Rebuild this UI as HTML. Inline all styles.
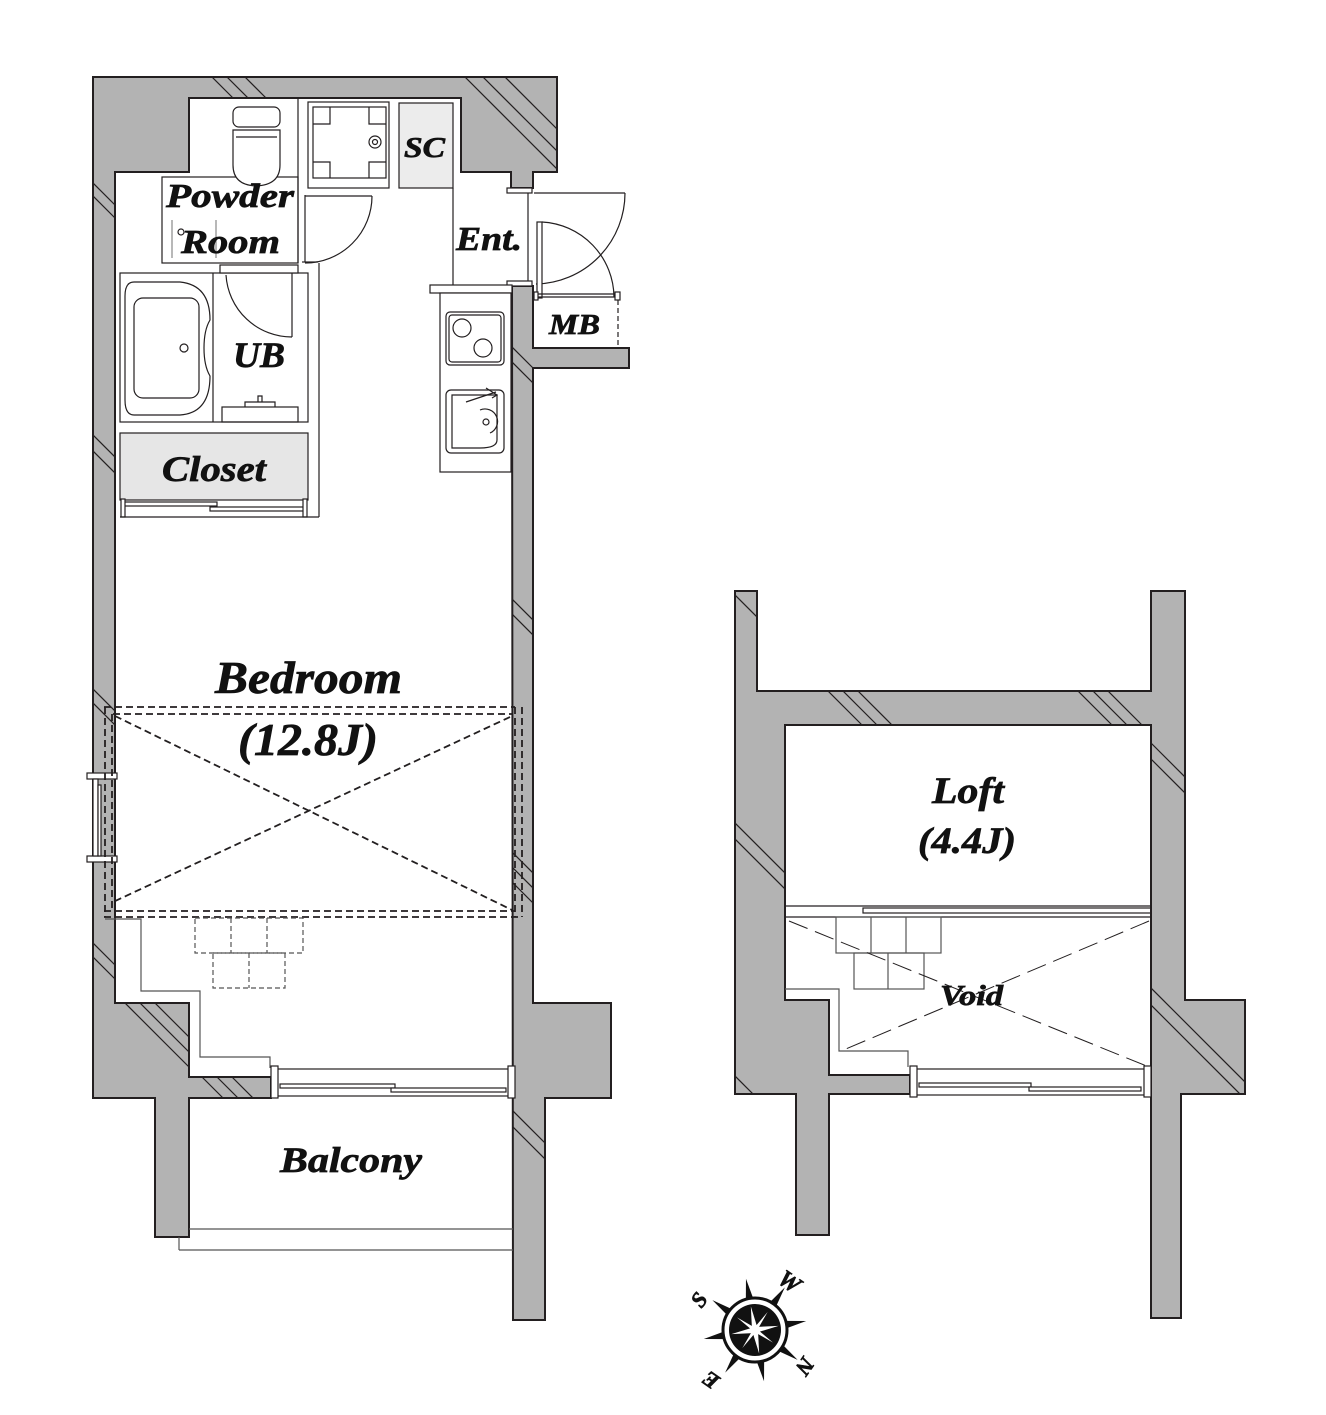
<!DOCTYPE html>
<html><head><meta charset="utf-8"><style>
html,body{margin:0;padding:0;background:#fff}
svg{display:block}
text{font-family:"Liberation Serif",serif;font-weight:bold;font-style:italic;fill:#111;stroke:#111;stroke-width:0.7px}
</style></head><body>
<svg width="1326" height="1415" viewBox="0 0 1326 1415" xmlns="http://www.w3.org/2000/svg">
<defs>
<clipPath id="cw">
<path d="M93,77 L557,77 L557,172 L533,172 L533,188 L511,188 L511,172 L461,172 L461,98 L189,98 L189,172 L115,172 L115,1003 L189,1003 L189,1077 L271,1077 L271,1098 L189,1098 L189,1237 L155,1237 L155,1098 L93,1098 Z"/>
<path d="M512,286 L533,286 L533,348 L629,348 L629,368 L533,368 L533,1003 L611,1003 L611,1098 L545,1098 L545,1320 L513,1320 Z"/>
<path d="M735,591 L757,591 L757,691 L1151,691 L1151,591 L1185,591 L1185,1000 L1245,1000 L1245,1094 L1181,1094 L1181,1318 L1151,1318 L1151,725 L785,725 L785,1000 L829,1000 L829,1075 L910,1075 L910,1094 L829,1094 L829,1235 L796,1235 L796,1094 L735,1094 Z"/>
</clipPath>
</defs>

<g fill="#b3b3b3" stroke="#231f20" stroke-width="2">
<path d="M93,77 L557,77 L557,172 L533,172 L533,188 L511,188 L511,172 L461,172 L461,98 L189,98 L189,172 L115,172 L115,1003 L189,1003 L189,1077 L271,1077 L271,1098 L189,1098 L189,1237 L155,1237 L155,1098 L93,1098 Z"/>
<path d="M512,286 L533,286 L533,348 L629,348 L629,368 L533,368 L533,1003 L611,1003 L611,1098 L545,1098 L545,1320 L513,1320 Z"/>
<path d="M735,591 L757,591 L757,691 L1151,691 L1151,591 L1185,591 L1185,1000 L1245,1000 L1245,1094 L1181,1094 L1181,1318 L1151,1318 L1151,725 L785,725 L785,1000 L829,1000 L829,1075 L910,1075 L910,1094 L829,1094 L829,1235 L796,1235 L796,1094 L735,1094 Z"/>
</g>

<g clip-path="url(#cw)" stroke="#231f20" stroke-width="1.2">
<line x1="205" y1="70" x2="240" y2="105"/><line x1="220" y1="70" x2="255" y2="105"/><line x1="238" y1="70" x2="273" y2="105"/>
<line x1="460" y1="72" x2="570" y2="182"/><line x1="478" y1="72" x2="588" y2="182"/><line x1="500" y1="72" x2="610" y2="182"/>
<line x1="90" y1="180" x2="120" y2="210"/><line x1="90" y1="193" x2="120" y2="223"/>
<line x1="90" y1="432" x2="120" y2="462"/><line x1="90" y1="448" x2="120" y2="478"/>
<line x1="90" y1="686" x2="120" y2="716"/><line x1="90" y1="700" x2="120" y2="730"/>
<line x1="90" y1="940" x2="120" y2="970"/><line x1="90" y1="954" x2="120" y2="984"/>
<line x1="122" y1="1000" x2="196" y2="1074"/><line x1="137" y1="1000" x2="211" y2="1074"/><line x1="152" y1="1000" x2="226" y2="1074"/>
<line x1="200" y1="1075" x2="226" y2="1101"/><line x1="215" y1="1075" x2="241" y2="1101"/><line x1="230" y1="1075" x2="256" y2="1101"/>
<line x1="510" y1="345" x2="540" y2="375"/><line x1="510" y1="360" x2="540" y2="390"/>
<line x1="510" y1="597" x2="540" y2="627"/><line x1="510" y1="612" x2="540" y2="642"/>
<line x1="510" y1="850" x2="540" y2="880"/><line x1="510" y1="865" x2="540" y2="895"/><line x1="510" y1="880" x2="540" y2="910"/>
<line x1="510" y1="1108" x2="550" y2="1148"/><line x1="510" y1="1124" x2="550" y2="1164"/>
<line x1="732" y1="592" x2="762" y2="622"/>
<line x1="732" y1="820" x2="790" y2="878"/><line x1="732" y1="836" x2="790" y2="894"/>
<line x1="732" y1="1073" x2="760" y2="1101"/>
<line x1="825" y1="688" x2="862" y2="725"/><line x1="840" y1="688" x2="877" y2="725"/><line x1="855" y1="688" x2="892" y2="725"/>
<line x1="1075" y1="688" x2="1112" y2="725"/><line x1="1090" y1="688" x2="1127" y2="725"/><line x1="1105" y1="688" x2="1142" y2="725"/>
<line x1="1148" y1="740" x2="1190" y2="782"/><line x1="1148" y1="756" x2="1190" y2="798"/>
<line x1="1148" y1="985" x2="1258" y2="1095"/><line x1="1148" y1="1002" x2="1258" y2="1112"/>
</g>

<g fill="none" stroke="#231f20" stroke-width="1.2">
<rect x="162" y="177" width="136" height="86" fill="#fff"/>
<line x1="298" y1="98" x2="298" y2="263"/>
<line x1="172" y1="220" x2="172" y2="258" stroke="#888"/>
<line x1="216" y1="220" x2="216" y2="258" stroke="#888"/>
<circle cx="181" cy="232" r="3"/>
<rect x="233" y="107" width="47" height="20" rx="6" fill="#fff"/>
<path d="M233,130 L280,130 L280,165 Q280,185 256,186 Q233,185 233,165 Z" fill="#fff"/>
<line x1="236" y1="137" x2="277" y2="137"/>
<line x1="305" y1="195" x2="305" y2="262"/><line x1="302" y1="262" x2="318" y2="262"/>
<line x1="305" y1="196" x2="372" y2="196"/>
<path d="M372,196 A67,67 0 0 1 305,263"/>
<rect x="308" y="102" width="81" height="86"/>
<rect x="313" y="107" width="73" height="71"/>
<circle cx="375" cy="142" r="6"/><circle cx="375" cy="142" r="2.5"/>
<path d="M313,124 H330 V107 M369,107 V124 H386 M313,162 H330 V178 M369,178 V162 H386"/>
<rect x="399" y="103" width="54" height="85" fill="#ececec"/>
<line x1="453" y1="188" x2="453" y2="285"/>
<rect x="507" y="188" width="25" height="5" fill="#fff"/>
<rect x="507" y="281" width="25" height="5" fill="#fff"/>
<line x1="528" y1="193" x2="528" y2="281"/>
<line x1="534" y1="193" x2="625" y2="193"/>
<path d="M625,193 A91,91 0 0 1 536,284"/>
<rect x="537" y="222" width="5" height="76" fill="#fff"/>
<path d="M542,222 A76,76 0 0 1 614,297"/>
<line x1="535" y1="297" x2="620" y2="297"/>
<line x1="537" y1="294" x2="620" y2="294"/>
<rect x="534" y="292" width="4" height="8" fill="#fff"/><rect x="615" y="292" width="5" height="8" fill="#fff"/>
<line x1="618" y1="300" x2="618" y2="348" stroke-dasharray="5,3"/>
<rect x="430" y="285" width="82" height="8" fill="#fff"/>
<rect x="440" y="293" width="71" height="179" fill="#fff"/>
<rect x="446" y="312" width="58" height="53" rx="4"/>
<rect x="449" y="315" width="52" height="47" rx="3"/>
<circle cx="462" cy="328" r="9"/><circle cx="483" cy="348" r="9"/>
<rect x="446" y="390" width="58" height="63" rx="5"/>
<path d="M452,395 H497 V440 Q497,448 480,448 H452 Z"/>
<path d="M466,402 L496,392 M486,388 L497,395 L492,398"/>
<circle cx="486" cy="422" r="3"/><path d="M480,410 A12,12 0 0 1 490,433"/>
<rect x="120" y="273" width="188" height="149" fill="#fff"/>
<line x1="319" y1="263" x2="319" y2="517"/>
<line x1="213" y1="273" x2="213" y2="422"/>
<path d="M134,282 H180 Q210,285 210,320 Q204,330 204,348 Q204,366 210,376 Q210,413 180,415 H134 Q125,415 125,400 V296 Q125,282 134,282 Z"/>
<rect x="134" y="298" width="65" height="100" rx="9"/>
<circle cx="184" cy="348" r="4"/>
<rect x="220" y="265" width="78" height="8" fill="#fff"/>
<line x1="292" y1="273" x2="292" y2="337"/>
<path d="M226,275 A66,66 0 0 0 292,337"/>
<rect x="222" y="407" width="76" height="15"/>
<path d="M245,407 V402 H275 V407 M258,402 V396 H262 V402"/>
<rect x="120" y="433" width="188" height="67" fill="#e6e6e6"/>
<rect x="123" y="502" width="94" height="4" fill="#fff"/>
<rect x="210" y="507" width="95" height="4" fill="#fff"/>
<rect x="121" y="499" width="4" height="18" fill="#fff"/><rect x="303" y="499" width="4" height="18" fill="#fff"/>
<line x1="120" y1="517" x2="319" y2="517"/>
<rect x="87" y="773" width="30" height="6" fill="#fff"/>
<rect x="87" y="856" width="30" height="6" fill="#fff"/>
<rect x="93" y="779" width="5" height="77" fill="#fff"/>
<rect x="98" y="785" width="3" height="71" fill="#fff"/>
<g stroke-dasharray="7,4" stroke-width="1.8">
<line x1="104" y1="707" x2="515" y2="707"/><line x1="113" y1="714" x2="512" y2="714"/>
<line x1="104" y1="911" x2="515" y2="911"/><line x1="104" y1="917" x2="520" y2="917"/>
<line x1="105" y1="707" x2="105" y2="917"/><line x1="112" y1="714" x2="112" y2="911"/>
<line x1="515" y1="707" x2="515" y2="917"/><line x1="522" y1="707" x2="522" y2="917"/>
<line x1="115" y1="716" x2="512" y2="910"/><line x1="510" y1="717" x2="113" y2="902"/>
</g>
<path d="M105,919 H141 V991 H200 V1057 H270 V1068" stroke="#555"/>
<g stroke-dasharray="5,3" stroke="#555">
<rect x="195" y="918" width="108" height="35"/><line x1="231" y1="918" x2="231" y2="953"/><line x1="267" y1="918" x2="267" y2="953"/>
<rect x="213" y="953" width="72" height="35"/><line x1="249" y1="953" x2="249" y2="988"/>
</g>
<rect x="273" y="1069" width="240" height="27" fill="#fff"/>
<rect x="280" y="1084" width="115" height="4" fill="#fff"/>
<rect x="391" y="1088" width="115" height="4" fill="#fff"/>
<rect x="271" y="1066" width="7" height="32" fill="#fff"/><rect x="508" y="1066" width="7" height="32" fill="#fff"/>
<line x1="189" y1="1229" x2="513" y2="1229" stroke="#555"/>
<line x1="179" y1="1250" x2="513" y2="1250" stroke="#555"/>
<line x1="179" y1="1237" x2="179" y2="1250" stroke="#555"/>

<line x1="785" y1="906" x2="1151" y2="906"/>
<line x1="785" y1="917" x2="1151" y2="917"/>
<rect x="863" y="908" width="288" height="5"/>
<g stroke="#555">
<rect x="836" y="917" width="105" height="36"/><line x1="871" y1="917" x2="871" y2="953"/><line x1="906" y1="917" x2="906" y2="953"/>
<rect x="854" y="953" width="70" height="36"/><line x1="888" y1="953" x2="888" y2="989"/>
<path d="M785,989 H839 V1051 H908 V1067"/>
</g>
<g stroke-dasharray="20,8" stroke-width="1">
<line x1="789" y1="921" x2="1149" y2="1067"/>
<line x1="1149" y1="921" x2="841" y2="1051"/>
</g>
<rect x="912" y="1069" width="237" height="26" fill="#fff"/>
<rect x="919" y="1083" width="112" height="4" fill="#fff"/>
<rect x="1029" y="1087" width="112" height="4" fill="#fff"/>
<rect x="910" y="1066" width="7" height="31" fill="#fff"/><rect x="1144" y="1066" width="7" height="31" fill="#fff"/>
</g>

<text x="166" y="207" font-size="34" textLength="128" lengthAdjust="spacingAndGlyphs">Powder</text>
<text x="181" y="253" font-size="34" textLength="99" lengthAdjust="spacingAndGlyphs">Room</text>
<text x="404" y="157" font-size="28" textLength="41" lengthAdjust="spacingAndGlyphs">SC</text>
<text x="456" y="250" font-size="34" textLength="66" lengthAdjust="spacingAndGlyphs">Ent.</text>
<text x="549" y="334" font-size="28" textLength="51" lengthAdjust="spacingAndGlyphs">MB</text>
<text x="233" y="367" font-size="36" textLength="52" lengthAdjust="spacingAndGlyphs">UB</text>
<text x="162" y="481" font-size="36" textLength="104" lengthAdjust="spacingAndGlyphs">Closet</text>
<text x="215" y="693" font-size="45" textLength="187" lengthAdjust="spacingAndGlyphs">Bedroom</text>
<text x="238" y="755" font-size="45" textLength="140" lengthAdjust="spacingAndGlyphs">(12.8J)</text>
<text x="280" y="1172" font-size="36" textLength="142" lengthAdjust="spacingAndGlyphs">Balcony</text>
<text x="932" y="803" font-size="37" textLength="72" lengthAdjust="spacingAndGlyphs">Loft</text>
<text x="918" y="853" font-size="37" textLength="98" lengthAdjust="spacingAndGlyphs">(4.4J)</text>
<text x="940" y="1005" font-size="28" textLength="63" lengthAdjust="spacingAndGlyphs">Void</text>

<g transform="translate(755,1330)">
<g fill="#111">
<polygon points="0,-52 4,-30 -4,-30" transform="rotate(-10)"/>
<polygon points="0,-52 4,-30 -4,-30" transform="rotate(35)"/>
<polygon points="0,-52 4,-30 -4,-30" transform="rotate(80)"/>
<polygon points="0,-52 4,-30 -4,-30" transform="rotate(125)"/>
<polygon points="0,-52 4,-30 -4,-30" transform="rotate(170)"/>
<polygon points="0,-52 4,-30 -4,-30" transform="rotate(215)"/>
<polygon points="0,-52 4,-30 -4,-30" transform="rotate(260)"/>
<polygon points="0,-52 4,-30 -4,-30" transform="rotate(305)"/>
</g>
<circle r="32" fill="#fff" stroke="#111" stroke-width="3"/>
<circle r="26" fill="#111"/>
<g fill="#fff">
<polygon points="0,-24 3,0 0,24 -3,0" transform="rotate(-10)"/>
<polygon points="0,-24 3,0 0,24 -3,0" transform="rotate(80)"/>
<polygon points="0,-22 2,0 0,22 -2,0" transform="rotate(35)"/>
<polygon points="0,-22 2,0 0,22 -2,0" transform="rotate(125)"/>
</g>
<text font-size="22" font-style="normal" transform="translate(-50,-26) rotate(-55)" text-anchor="middle">S</text>
<text font-size="24" font-style="normal" transform="translate(30,-42) rotate(35)" text-anchor="middle">W</text>
<text font-size="22" font-style="normal" transform="translate(44,32) rotate(125)" text-anchor="middle">N</text>
<text font-size="22" font-style="normal" transform="translate(-40,44) rotate(-145)" text-anchor="middle">E</text>
</g>
</svg>
</body></html>
